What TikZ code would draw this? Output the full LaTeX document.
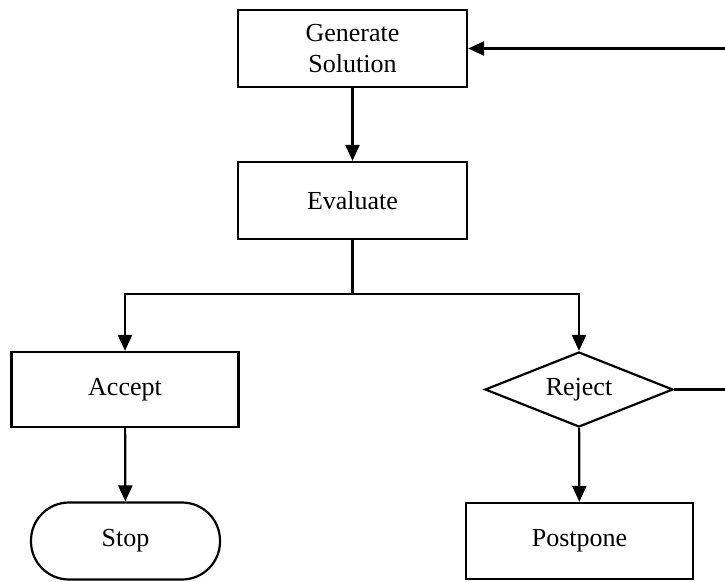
\documentclass[tikz,border=0pt]{standalone}
\usepackage{fontspec}
\setmainfont{Liberation Serif}
\usetikzlibrary{arrows.meta,shapes.geometric}
\tikzset{
  box/.style={draw, line width=2.2pt, rectangle, minimum width=229pt, minimum height=77pt, inner sep=0pt, align=center, font=\fontsize{26}{31}\selectfont},
  stopbox/.style={box, rounded corners=38pt, minimum width=189pt},
  decision/.style={draw, line width=2.2pt, diamond, aspect=2.5, minimum width=188pt, minimum height=75pt, inner sep=0pt, font=\fontsize{26}{31}\selectfont},
  conn/.style={line width=2.2pt, -{Triangle[length=16pt,width=14pt]}},
  plain/.style={line width=2.2pt}
}
\begin{document}
\begin{tikzpicture}[x=1pt,y=-1pt]
\useasboundingbox (0,0) rectangle (725,581);
\clip (0,0) rectangle (725,581);
\node[box] (gen) at (352.5,48.5) {Generate\\Solution};
\node[box] (eval) at (352.5,200.5) {Evaluate};
\node[box, minimum width=227pt, minimum height=75pt] (acc) at (125,389.5) {Accept};
\node[decision] (rej) at (579,389.5) {Reject};
\node[stopbox] (stop) at (125.5,541) {Stop};
\node[box, minimum width=227pt, minimum height=76pt] (post) at (579.5,541) {Postpone};
\coordinate (split) at (352.5,294);
\coordinate (r1) at (735,389.5);
\coordinate (r2) at (735,48.5);
\draw[conn] (gen) -- (eval);
\draw[plain] (eval.south) -- (split);
\draw[conn] (split) -| (acc.north);
\draw[conn] (split) -| (rej.north);
\draw[conn] (acc) -- (stop);
\draw[conn] (rej) -- (post);
\draw[conn] (rej.east) -- (r1) -- (r2) -- (gen.east);
\end{tikzpicture}
\end{document}
